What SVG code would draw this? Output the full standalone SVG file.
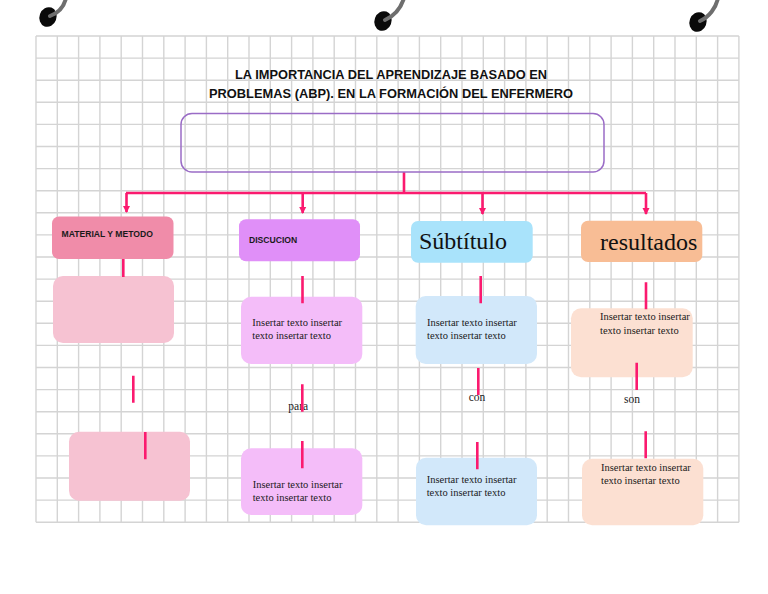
<svg xmlns="http://www.w3.org/2000/svg" width="768" height="594" viewBox="0 0 768 594">
<style>
.grid{stroke:#d4d4d4;stroke-width:1.4;fill:none}
.conn{stroke:#fb1a6f;stroke-width:2.6;fill:none}
.hook{stroke:#6e6e6e;stroke-width:4;fill:none;stroke-linecap:round}
.title{font-family:"Liberation Sans",Arial,sans-serif;font-weight:bold;font-size:12.5px;fill:#111}
.hdr{font-family:"Liberation Sans",Arial,sans-serif;font-weight:bold;font-size:8.6px;fill:#1a1a1a}
.big{font-family:"Liberation Serif","Times New Roman",serif;font-size:24px;fill:#111}
.body{font-family:"Liberation Serif","Times New Roman",serif;font-size:10.5px;fill:#1a1a1a}
.lbl{font-family:"Liberation Serif","Times New Roman",serif;font-size:11.5px;fill:#1a1a1a}
</style>
<defs>
<marker id="arr" markerWidth="8" markerHeight="8" refX="6" refY="4" orient="auto" markerUnits="userSpaceOnUse">
<path d="M0,0.5 L7,4 L0,7.5 Z" fill="#fb1a6f"/>
</marker>
</defs>
<rect width="768" height="594" fill="#ffffff"/>
<g id="grid">
<path class="grid" d="M36,36V522.2 M57.3,36V522.2 M78.6,36V522.2 M99.9,36V522.2 M121.2,36V522.2 M142.5,36V522.2 M163.8,36V522.2 M185.1,36V522.2 M206.4,36V522.2 M227.7,36V522.2 M249,36V522.2 M270.3,36V522.2 M291.6,36V522.2 M312.9,36V522.2 M334.2,36V522.2 M355.5,36V522.2 M376.8,36V522.2 M398.1,36V522.2 M419.4,36V522.2 M440.7,36V522.2 M462,36V522.2 M483.3,36V522.2 M504.6,36V522.2 M525.9,36V522.2 M547.2,36V522.2 M568.5,36V522.2 M589.8,36V522.2 M611.1,36V522.2 M632.4,36V522.2 M653.7,36V522.2 M675,36V522.2 M696.3,36V522.2 M717.6,36V522.2 M738.9,36V522.2
M36,36H738.9 M36,58.1H738.9 M36,80.2H738.9 M36,102.3H738.9 M36,124.4H738.9 M36,146.5H738.9 M36,168.6H738.9 M36,190.7H738.9 M36,212.8H738.9 M36,234.9H738.9 M36,257H738.9 M36,279.1H738.9 M36,301.2H738.9 M36,323.3H738.9 M36,345.4H738.9 M36,367.5H738.9 M36,389.6H738.9 M36,411.7H738.9 M36,433.8H738.9 M36,455.9H738.9 M36,478H738.9 M36,500.1H738.9 M36,522.2H738.9"/>
</g>
<g id="rings">
<ellipse cx="48" cy="17" rx="8.5" ry="10" fill="#0a0a0a" transform="rotate(20 48 17)"/>
<path class="hook" d="M50,16 C58,13 64,7 66,-2"/>
<ellipse cx="383" cy="21" rx="8.5" ry="10" fill="#0a0a0a" transform="rotate(20 383 21)"/>
<path class="hook" d="M385,20 C394,16 401,8 404,-2"/>
<ellipse cx="698" cy="22" rx="8.5" ry="10" fill="#0a0a0a" transform="rotate(20 698 22)"/>
<path class="hook" d="M700,21 C709,17 716,8 718,-2"/>
</g>
<g id="title">
<text class="title" x="391" y="79" text-anchor="middle" textLength="312" lengthAdjust="spacingAndGlyphs">LA IMPORTANCIA DEL APRENDIZAJE BASADO EN</text>
<text class="title" x="391" y="98" text-anchor="middle" textLength="364" lengthAdjust="spacingAndGlyphs">PROBLEMAS (ABP). EN LA FORMACIÓN DEL ENFERMERO</text>
</g>
<g id="connectors">
<path class="conn" d="M404,172V193 M126,193H646"/>
<path class="conn" d="M126.5,193V212" marker-end="url(#arr)"/>
<path class="conn" d="M302.7,193V213" marker-end="url(#arr)"/>
<path class="conn" d="M482.5,193V214" marker-end="url(#arr)"/>
<path class="conn" d="M646,193V214" marker-end="url(#arr)"/>
</g>
<g id="main">
<rect x="181" y="113.5" width="423" height="58.5" rx="11" fill="none" stroke="#9a6cc6" stroke-width="1.5"/>
</g>
<g id="material">
<rect x="52" y="216.5" width="121.5" height="42.5" rx="7" fill="#f08ca9"/>
<text class="hdr" x="61.5" y="237.3">MATERIAL Y METODO</text>
</g>
<g id="discucion">
<rect x="239" y="219.3" width="121" height="42" rx="7" fill="#e08ff8"/>
<text class="hdr" x="249" y="243.3">DISCUCION</text>
</g>
<g id="subtitulo">
<rect x="411" y="221" width="121.7" height="41.7" rx="7" fill="#a9e3fb"/>
<text class="big" x="419" y="248.5">Súbtítulo</text>
</g>
<g id="resultados">
<rect x="581" y="220.7" width="121.3" height="41.3" rx="7" fill="#f8bd95"/>
<text class="big" x="600" y="250">resultados</text>
</g>
<g id="material-a">
<rect x="53" y="276" width="121" height="67" rx="10" fill="#f6c2d2"/>
</g>
<g id="material-b">
<rect x="69" y="431.7" width="121" height="69" rx="10" fill="#f6c2d2"/>
</g>
<g id="discucion-a">
<rect x="241" y="296.7" width="121.3" height="67.3" rx="10" fill="#f4bdf9"/>
<text class="body" x="252.3" y="325.7">Insertar texto insertar</text>
<text class="body" x="252.3" y="338.8">texto insertar texto</text>
</g>
<g id="discucion-b">
<rect x="241" y="448.3" width="121.3" height="66.7" rx="10" fill="#f4bdf9"/>
<text class="body" x="252.7" y="488.3">Insertar texto insertar</text>
<text class="body" x="252.7" y="501.2">texto insertar texto</text>
</g>
<g id="subtitulo-a">
<rect x="415.7" y="296" width="121.3" height="68" rx="10" fill="#d2e8fa"/>
<text class="body" x="427" y="325.7">Insertar texto insertar</text>
<text class="body" x="427" y="338.8">texto insertar texto</text>
</g>
<g id="subtitulo-b">
<rect x="416" y="457.7" width="121" height="67.6" rx="10" fill="#d2e8fa"/>
<text class="body" x="426.7" y="482.7">Insertar texto insertar</text>
<text class="body" x="426.7" y="496">texto insertar texto</text>
</g>
<g id="resultados-a">
<rect x="571" y="308.3" width="121.7" height="69" rx="10" fill="#fce0d2"/>
<text class="body" x="600" y="320.3">Insertar texto insertar</text>
<text class="body" x="600" y="333.6">texto insertar texto</text>
</g>
<g id="resultados-b">
<rect x="582" y="458.7" width="121.3" height="66.6" rx="10" fill="#fce0d2"/>
<text class="body" x="601" y="471">Insertar texto insertar</text>
<text class="body" x="601" y="484">texto insertar texto</text>
</g>
<g id="labels">
<text class="lbl" x="288.3" y="410">para</text>
<text class="lbl" x="468.7" y="401">con</text>
<text class="lbl" x="624" y="403">son</text>
</g>
<g id="links">
<path class="conn" d="M123.3,259V277 M133.3,375.7V402.7 M145.3,432V459.3"/>
<path class="conn" d="M302.5,276V303.3 M302.3,384.3V411.7 M302.3,441V468.3"/>
<path class="conn" d="M480.7,276V303.3 M478.3,368V395 M477.3,442V469.3"/>
<path class="conn" d="M646,282.3V309.3 M636.7,362.7V390 M645.7,431.3V458.3"/>
</g>
</svg>
